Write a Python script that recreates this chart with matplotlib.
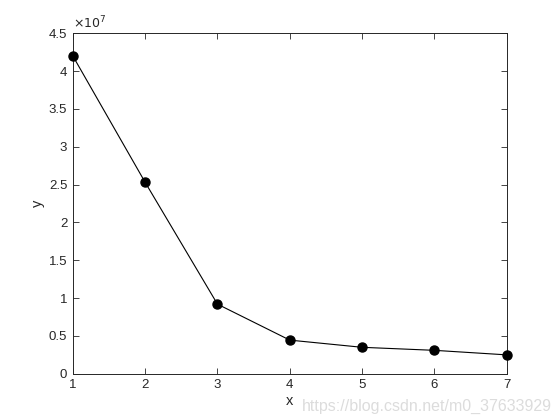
import matplotlib
matplotlib.use("Agg")
import matplotlib.pyplot as plt

plt.rcParams['font.family'] = ['Liberation Sans', 'DejaVu Sans']

x = [1, 2, 3, 4, 5, 6, 7]
y = [4.20e7, 2.53e7, 0.92e7, 0.445e7, 0.35e7, 0.31e7, 0.25e7]
yticks = [0, 0.5, 1, 1.5, 2, 2.5, 3, 3.5, 4, 4.5]
ytick_labels = ['0', '0.5', '1', '1.5', '2', '2.5', '3', '3.5', '4', '4.5']

fig = plt.figure(figsize=(5.6, 4.2), dpi=100)
ax = fig.add_axes([0.13, 0.11, 0.775, 0.811])
ax.plot(x, y, color='black', linewidth=0.8, marker='o', markersize=6.5,
        markerfacecolor='black', markeredgecolor='black', clip_on=False, zorder=3)
ax.set_xlim(1, 7)
ax.set_ylim(0, 4.5e7)
ax.set_xticks(x)
ax.set_yticks([v * 1e7 for v in yticks])
ax.set_yticklabels(ytick_labels)
ax.tick_params(direction='in', top=True, right=True, length=4, width=0.6,
               labelsize=9.5, colors='#262626', pad=4)
for s in ax.spines.values():
    s.set_linewidth(0.7)
    s.set_color('#262626')
ax.set_xlabel('x', fontsize=10.5, color='#262626', labelpad=2)
ax.set_ylabel('y', fontsize=10.5, color='#262626', labelpad=3)
ax.text(0.0, 1.005, r'$\times10^{7}$', transform=ax.transAxes, fontsize=9,
        color='#262626', ha='left', va='bottom', fontfamily='Liberation Sans')
fig.text(0.985, 0.015, 'https://blog.csdn.net/m0_37633929', ha='right', va='bottom',
         fontsize=11.5, color='#dcdcdc')
fig.savefig('out.png', dpi=100, facecolor='white')
